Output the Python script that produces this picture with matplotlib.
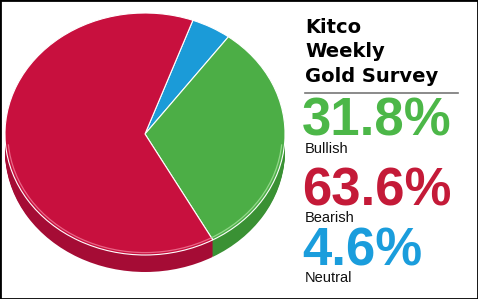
import matplotlib
matplotlib.use("Agg")
import matplotlib.pyplot as plt
from matplotlib.patches import Arc, Rectangle

# survey results (pie order: neutral, bullish, bearish - clockwise from top)
labels = ["Neutral", "Bullish", "Bearish"]
values = [4.6, 31.8, 63.6]
top_colors = ["#1b9bd8", "#4cae46", "#c8103e"]
side_colors = ["#137fb5", "#3a9134", "#a50c35"]
rim_colors = ["#8fd3f2", "#a6e29c", "#f07a98"]

# legend block on the right (drawn top to bottom)
legend_labels = ["Bullish", "Bearish", "Neutral"]
legend_values = [31.8, 63.6, 4.6]
legend_colors = ["#4cb748", "#c41a38", "#1a9ddc"]

W, H = 478, 299
fig = plt.figure(figsize=(W / 100, H / 100), dpi=100)

# pie geometry in pixels: the disc is slightly wider than tall
cx, cy = 145, 134
rx, ry = 140, 121
depth = 17

ax = fig.add_axes([0, 0, 1, 1])
# side of the disc: stack of darker pies shifted down
for k in range(depth, 0, -1):
    ax.pie(values, colors=side_colors, startangle=70, counterclock=False,
           center=(0, -k / ry), radius=1, wedgeprops=dict(linewidth=0))
wedges, _ = ax.pie(values, colors=top_colors, startangle=70, counterclock=False,
                   center=(0, 0), radius=1,
                   wedgeprops=dict(linewidth=0.8, edgecolor="white"))
# light rim highlight on the lower half
for w, c in zip(wedges, rim_colors):
    t1, t2 = w.theta1, w.theta2
    for off in (0, 360):
        lo, hi = max(t1 + off, 185), min(t2 + off, 355)
        if hi > lo:
            ax.add_patch(Arc((0, 0), 1.96, 1.96, theta1=lo - off, theta2=hi - off,
                             color=c, lw=0.9, alpha=0.8))
ax.set_aspect("auto")
ax.set_xlim(-cx / rx, (W - cx) / rx)
ax.set_ylim(-(H - cy) / ry, cy / ry)
ax.axis("off")


def px(x, y):
    return x / W, 1 - y / H


# title
title_lines = ["Kitco", "Weekly", "Gold Survey"]
for line, yb in zip(title_lines, [33, 57, 82]):
    fig.text(*px(305, yb), line, fontsize=14, fontweight="bold",
             family="DejaVu Sans", color="black", va="baseline", ha="left")

# separator line
fig.add_artist(plt.Line2D([305 / W, 458 / W], [1 - 93 / H, 1 - 93 / H],
                          color="#777777", lw=1.2))

# percentages and labels
font = "Liberation Sans"
for lab, val, col, yb in zip(legend_labels, legend_values, legend_colors,
                             [136, 205, 265]):
    fig.text(*px(302, yb), f"{val}%", fontsize=38, fontweight="bold",
             family=font, color=col, va="baseline", ha="left")
    fig.text(*px(305, yb + 17), lab, fontsize=10.5, family=font,
             color="#111111", va="baseline", ha="left")

# outer frame
fig.patches.append(Rectangle((0, 0), 1, 1, transform=fig.transFigure,
                             fill=False, ec="black", lw=2))

fig.savefig("out.png", dpi=100)
